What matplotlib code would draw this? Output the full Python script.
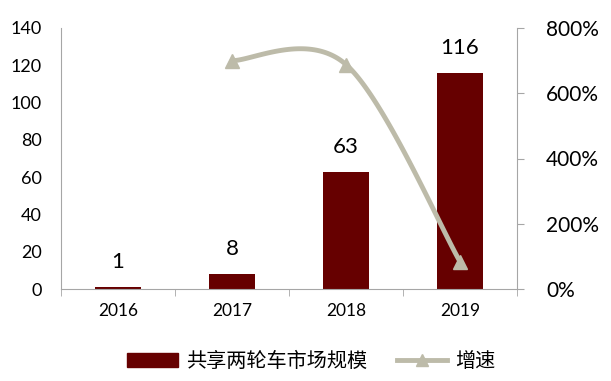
import numpy as np
import matplotlib
matplotlib.use("Agg")
import matplotlib.pyplot as plt
from matplotlib.ticker import FuncFormatter
from matplotlib.patches import Patch
from matplotlib.lines import Line2D

plt.rcParams["font.family"] = ["Lato", "Noto Sans CJK SC", "DejaVu Sans"]

years = ["2016", "2017", "2018", "2019"]
market = [1, 8, 63, 116]
growth = [None, 700, 688, 84]  # %

BAR_COLOR = "#660000"
LINE_COLOR = "#BDBBA9"
SPINE = "#A6A6A6"

fig = plt.figure(figsize=(6.11, 3.81), dpi=100)
ax = fig.add_axes([61 / 611, 1 - 289 / 381, 456 / 611, 261 / 381])
ax2 = ax.twinx()

x = np.arange(len(years))
ax.bar(x, market, width=0.4, color=BAR_COLOR, zorder=2)
for xi, v in zip(x, market):
    ax.text(xi, v + 8, str(v), ha="center", va="bottom", fontsize=16)

ax.set_xlim(-0.5, 3.5)
ax.set_ylim(0, 140)
ax.set_yticks(range(0, 141, 20))
ax.set_xticks(x)
ax.set_xticklabels(years)
ax.set_xticks(np.arange(-0.5, 3.6, 1), minor=True)
ax.tick_params(axis="x", which="major", length=0, labelsize=12.5, pad=10)
ax.tick_params(axis="x", which="minor", length=5, color=SPINE, direction="out")
ax.tick_params(axis="y", length=0, labelsize=13, pad=14)

# smoothed growth line (Excel-like bezier), computed in pixel-scaled units
gx = [i for i, g in enumerate(growth) if g is not None]
gy = [g for g in growth if g is not None]
sx, sy = 114.0, 261.0 / 800.0
P = np.column_stack([np.array(gx) * sx, np.array(gy) * sy])
curve = []
n = len(P)
for i in range(n - 1):
    p0 = P[i - 1] if i > 0 else P[i]
    p1, p2 = P[i], P[i + 1]
    p3 = P[i + 2] if i + 2 < n else P[i + 1]
    c1 = p1 + (p2 - p0) / 6
    c2 = p2 - (p3 - p1) / 6
    t = np.linspace(0, 1, 60)[:, None]
    seg = (1 - t) ** 3 * p1 + 3 * (1 - t) ** 2 * t * c1 + 3 * (1 - t) * t ** 2 * c2 + t ** 3 * p2
    curve.append(seg)
curve = np.vstack(curve)
ax2.plot(curve[:, 0] / sx, curve[:, 1] / sy, color=LINE_COLOR, lw=3.5,
         solid_capstyle="round", zorder=3)
ax2.plot(gx, gy, linestyle="none", marker="^", markersize=10,
         color=LINE_COLOR, zorder=4)

ax2.set_ylim(0, 800)
ax2.set_yticks(range(0, 801, 200))
ax2.yaxis.set_major_formatter(FuncFormatter(lambda v, _: f"{int(v)}%"))
ax2.tick_params(axis="y", length=5, color=SPINE, labelsize=15, pad=16)

for a in (ax, ax2):
    a.spines["top"].set_visible(False)
    for s in ("left", "right", "bottom"):
        a.spines[s].set_color(SPINE)
ax.spines["right"].set_visible(False)
ax2.spines["left"].set_visible(False)
ax2.spines["bottom"].set_visible(False)

# legend
handles = [
    Patch(color=BAR_COLOR, label="共享两轮车市场规模"),
    Line2D([], [], color=LINE_COLOR, lw=3.5, marker="^", markersize=8,
           label="增速"),
]
fig.legend(handles=handles, loc="center", bbox_to_anchor=(0.51, 0.05),
           ncol=2, frameon=False, handlelength=2.5,
           columnspacing=1.5, handletextpad=0.4,
           prop={"family": ["Noto Sans CJK SC", "DejaVu Sans"], "size": 14.5})

fig.savefig("out.png", dpi=100)
